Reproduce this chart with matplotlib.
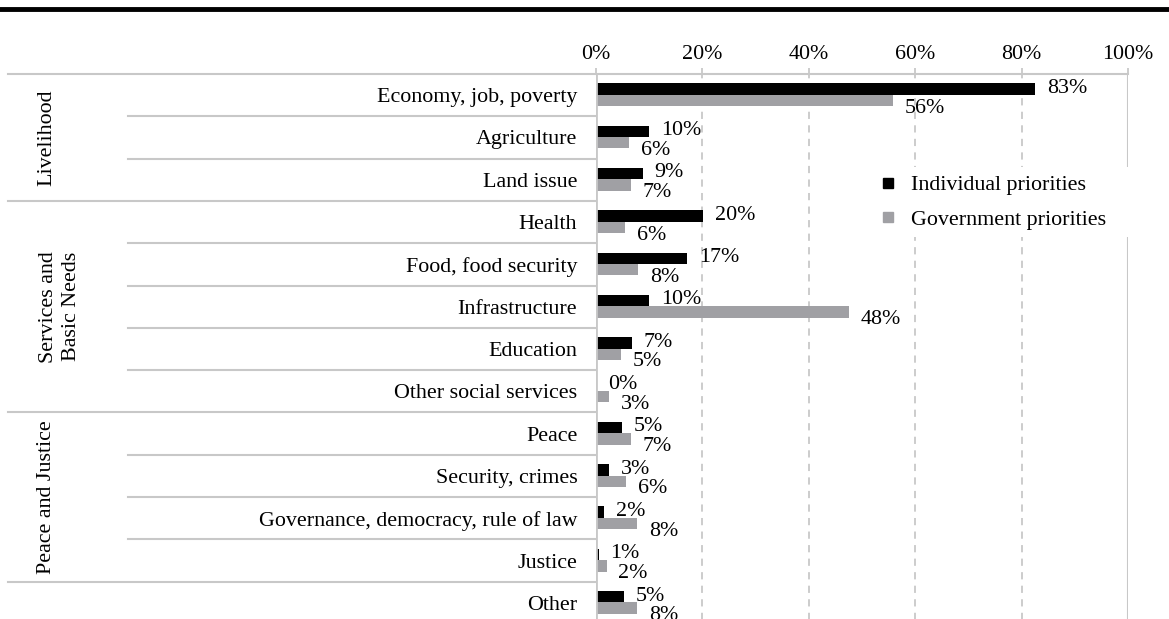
import matplotlib
matplotlib.use("Agg")
import matplotlib.pyplot as plt
from matplotlib.lines import Line2D
from matplotlib.patches import Rectangle

plt.rcParams['font.family'] = ['Liberation Serif', 'DejaVu Serif']

categories = ["Economy, job, poverty", "Agriculture", "Land issue", "Health",
              "Food, food security", "Infrastructure", "Education",
              "Other social services", "Peace", "Security, crimes",
              "Governance, democracy, rule of law", "Justice", "Other"]
individual = [82.6, 10.0, 8.8, 20.1, 17.1, 10.0, 6.8, 0.0, 4.9, 2.5, 1.5, 0.5, 5.3]
government = [55.8, 6.2, 6.5, 5.5, 7.9, 47.6, 4.7, 2.5, 6.6, 5.7, 7.7, 2.0, 7.7]
groups = ["Livelihood", "Services and\nBasic Needs", "Peace and Justice", ""]
group_sizes = [3, 5, 4, 1]
xticks = [0, 20, 40, 60, 80, 100]
xtick_labels = ["0%", "20%", "40%", "60%", "80%", "100%"]
series_names = ["Individual priorities", "Government priorities"]

W, H = 1169, 619
FS = 15.8
BLACK = "#000000"
GRAY = "#a0a0a4"
LINE = "#c8c8c8"

fig = plt.figure(figsize=(W / 100, H / 100), dpi=100)
x0, x1 = 596, 1128
ytop, ybot = 74, 624
ax = fig.add_axes([x0 / W, 1 - ybot / H, (x1 - x0) / W, (ybot - ytop) / H])

n = len(categories)
ax.set_xlim(0, 100)
ax.set_ylim(n - 0.5, -0.5)
for s in ax.spines.values():
    s.set_visible(False)

bh = 0.27
yb = [i - 0.145 for i in range(n)]
yg = [i + 0.125 for i in range(n)]
ax.barh(yb, individual, height=bh, color=BLACK, zorder=2)
ax.barh(yg, government, height=bh, color=GRAY, zorder=2)

# gridlines
for t in xticks:
    if t in (0, 100):
        ax.axvline(t, color=LINE, lw=2.0 if t == 0 else 1.5, zorder=4 if t == 0 else 1)
    else:
        ax.axvline(t, color=LINE, lw=1.3, linestyle=(0, (4, 3.5)), zorder=1)

ax.set_xticks(xticks)
ax.set_xticklabels(xtick_labels, fontsize=FS)
ax.tick_params(axis='x', top=True, bottom=False, labeltop=True, labelbottom=False,
               length=4.3, width=1.3, color=LINE, pad=3)
ax.set_yticks(range(n))
ax.set_yticklabels(categories, fontsize=FS)
ax.tick_params(axis='y', length=0, pad=13.5)

# row separators
tr = ax.get_yaxis_transform()
left_full = (8 - x0) / (x1 - x0)
left_inner = (128 - x0) / (x1 - x0)
ax.plot([left_full, 1.0], [-0.5, -0.5], color=LINE, lw=1.5, transform=tr, clip_on=False, zorder=1)
start = 0
for g, sz in zip(groups, group_sizes):
    end = start + sz
    for k in range(start, end - 1):
        ax.plot([left_inner, 0], [k + 0.5, k + 0.5], color=LINE, lw=1.5, transform=tr, clip_on=False)
    if end < n:
        ax.plot([left_full, 0], [end - 0.5, end - 0.5], color=LINE, lw=1.5, transform=tr, clip_on=False)
    if g:
        gx = 60 if "\n" in g else 47
        ax.text((gx - x0) / (x1 - x0), (start + end - 1) / 2, g, rotation=90, ha='center', va='center',
                fontsize=FS, transform=tr, multialignment='center', linespacing=1.3)
    start = end

# value labels
for i in range(n):
    ax.annotate(f"{int(individual[i] + 0.5)}%", (individual[i], yb[i]), xytext=(8.5, 0.5),
                textcoords='offset points', ha='left', va='center', fontsize=FS, zorder=5)
    ax.annotate(f"{int(government[i] + 0.5)}%", (government[i], yg[i]), xytext=(8.5, -5.5),
                textcoords='offset points', ha='left', va='center', fontsize=FS, zorder=5)

# legend background
ax.add_patch(Rectangle(((850 - x0) / (x1 - x0), 1 - (237 - ytop) / (ybot - ytop)),
                       (1136 - 850) / (x1 - x0), 70 / (ybot - ytop),
                       transform=ax.transAxes, facecolor='white', edgecolor='none',
                       zorder=3, clip_on=False))
handles = [Line2D([], [], marker='s', linestyle='none', markersize=7.5, color=c) for c in (BLACK, GRAY)]
leg = ax.legend(handles, series_names, loc='center left', frameon=False, fontsize=FS,
                bbox_to_anchor=((868 - x0) / (x1 - x0), 1 - (202.5 - ytop) / (ybot - ytop)),
                handlelength=1.0, handletextpad=0.55, labelspacing=0.65, borderaxespad=0)
leg.set_zorder(6)

# thick top rule
fig.add_artist(Line2D([0, 1], [1 - 9 / H, 1 - 9 / H], color='black', lw=3.5, transform=fig.transFigure))

fig.savefig("out.png", dpi=100)
